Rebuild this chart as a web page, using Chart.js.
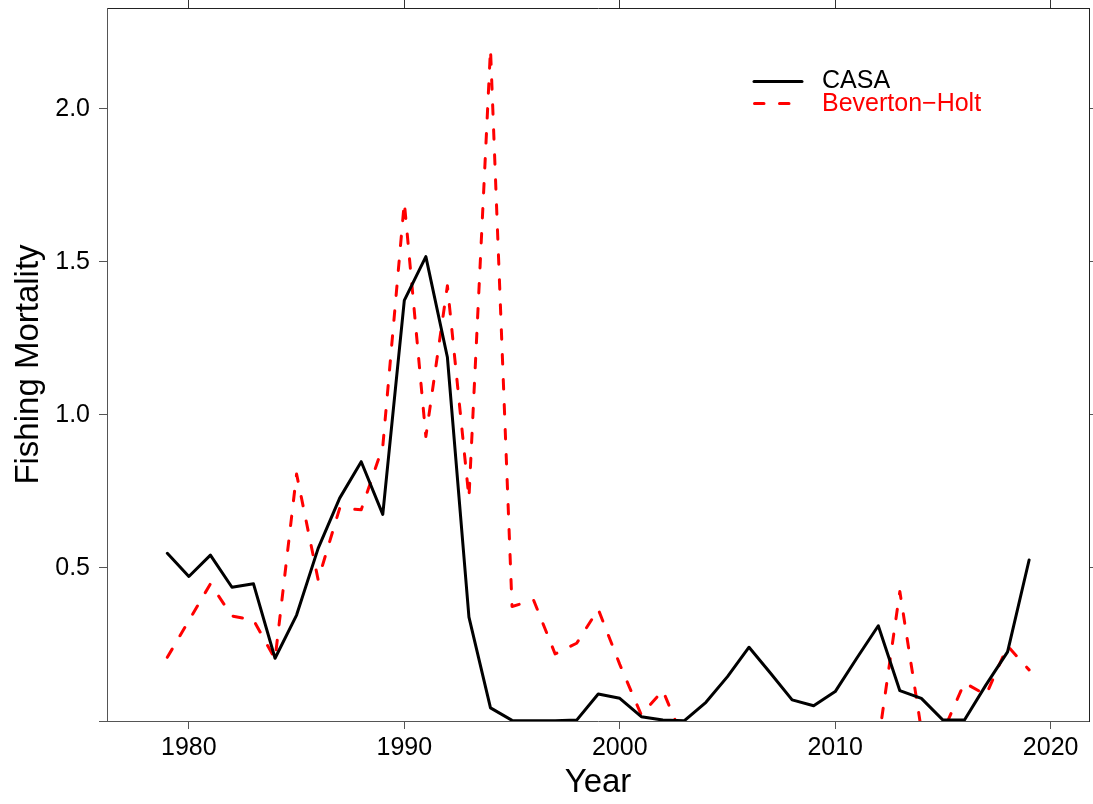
<!DOCTYPE html>
<html>
<head>
<meta charset="utf-8">
<script src="https://cdn.jsdelivr.net/npm/chart.js@4/dist/chart.umd.min.js"></script>
<style>
  html, body { margin: 0; padding: 0; background: #fff; }
  #wrap { width: 1093px; height: 804px; position: relative; }
</style>
</head>
<body>
<div id="wrap"><canvas id="c"></canvas></div>
<script>
// Fishing mortality estimates by year from two assessment models
const years = [
  1979, 1980, 1981, 1982, 1983, 1984, 1985, 1986, 1987, 1988,
  1989, 1990, 1991, 1992, 1993, 1994, 1995, 1996, 1997, 1998,
  1999, 2000, 2001, 2002, 2003, 2004, 2005, 2006, 2007, 2008,
  2009, 2010, 2011, 2012, 2013, 2014, 2015, 2016, 2017, 2018, 2019
];
const casaF = [
  0.548, 0.472, 0.542, 0.437, 0.448, 0.205, 0.346, 0.564, 0.728, 0.847,
  0.675, 1.374, 1.517, 1.188, 0.339, 0.043, 0.002, 0.001, 0.001, 0.003,
  0.088, 0.074, 0.014, 0.003, 0.001, 0.061, 0.145, 0.241, 0.156, 0.069,
  0.050, 0.096, 0.205, 0.311, 0.099, 0.074, 0.003, 0.003, 0.118, 0.226, 0.526
];
// Beverton-Holt estimates below zero for 2003-2012 fall outside the plotted range
const bhF = [
  0.208, 0.328, 0.448, 0.343, 0.330, 0.202, 0.807, 0.461, 0.695, 0.690,
  0.896, 1.694, 0.929, 1.422, 0.728, 2.195, 0.374, 0.395, 0.219, 0.254,
  0.365, 0.185, 0.020, 0.100, -0.070, null, null, null, null, null,
  null, null, null, -0.070, 0.423, -0.030, -0.036, 0.125, 0.085, 0.245, 0.167
];
const seriesNames = ['CASA', 'Beverton\u2212Holt'];
const xTicks = [1980, 1990, 2000, 2010, 2020];
const yTicks = [0, 0.5, 1.0, 1.5, 2.0];

const FONT = "'Liberation Sans', Arial, Helvetica, sans-serif";
const DASH = [9.5, 15.5];

const toPoints = vals => years.map((y, i) => ({ x: y, y: vals[i] }));

// Legend drawn inside the plot area, upper right
const legendPlugin = {
  id: 'innerLegend',
  afterDraw(chart) {
    const ctx = chart.ctx;
    ctx.save();
    ctx.lineCap = 'round';
    ctx.lineWidth = 3;
    ctx.strokeStyle = '#000';
    ctx.setLineDash([]);
    ctx.beginPath();
    ctx.moveTo(754, 81.5);
    ctx.lineTo(802, 81.5);
    ctx.stroke();
    ctx.strokeStyle = '#ff0000';
    ctx.setLineDash(DASH);
    ctx.beginPath();
    ctx.moveTo(754.5, 103.5);
    ctx.lineTo(802, 103.5);
    ctx.stroke();
    ctx.setLineDash([]);
    ctx.font = '25px ' + FONT;
    ctx.textBaseline = 'middle';
    ctx.textAlign = 'left';
    ctx.fillStyle = '#000';
    ctx.fillText(seriesNames[0], 822, 81);
    ctx.fillStyle = '#ff0000';
    ctx.fillText(seriesNames[1], 822, 104);
    ctx.restore();
  }
};

const setTicks = list => scale => { scale.ticks = list.map(v => ({ value: v })); };
// fixed axis band sizes, no extra label overhang padding
const fixSize = (dim, px) => scale => {
  scale[dim] = px;
  scale.paddingTop = 0; scale.paddingBottom = 0;
  scale.paddingLeft = 0; scale.paddingRight = 0;
};

const xMin = 1976.2, xMax = 2021.78;
const yMin = 0, yMax = 2.329;

new Chart(document.getElementById('c'), {
  type: 'line',
  data: {
    datasets: [
      {
        label: seriesNames[0],
        data: toPoints(casaF),
        borderColor: '#000',
        borderWidth: 3,
        pointRadius: 0,
        tension: 0,
        borderJoinStyle: 'round',
        borderCapStyle: 'round',
        spanGaps: false
      },
      {
        label: seriesNames[1],
        data: toPoints(bhF),
        borderColor: '#ff0000',
        borderWidth: 3,
        borderDash: DASH,
        borderCapStyle: 'round',
        borderJoinStyle: 'round',
        pointRadius: 0,
        tension: 0,
        spanGaps: false
      }
    ]
  },
  options: {
    responsive: true,
    maintainAspectRatio: false,
    animation: false,
    devicePixelRatio: 1,
    layout: { padding: 0 },
    plugins: {
      legend: { display: false },
      tooltip: { enabled: false }
    },
    scales: {
      x: {
        type: 'linear',
        position: 'bottom',
        min: xMin,
        max: xMax,
        afterBuildTicks: setTicks(xTicks),
        afterFit: fixSize('height', 83),
        grid: { drawOnChartArea: false, drawTicks: true, tickLength: 8, color: '#555', lineWidth: 1 },
        border: { display: true, color: '#555', width: 1 },
        ticks: {
          font: { family: FONT, size: 25 },
          color: '#000',
          padding: 4,
          maxRotation: 0,
          autoSkip: false,
          callback: v => String(v)
        },
        title: {
          display: true,
          text: 'Year',
          font: { family: FONT, size: 33 },
          color: '#000',
          padding: { top: 0, bottom: 1 }
        }
      },
      xTop: {
        type: 'linear',
        position: 'top',
        min: xMin,
        max: xMax,
        afterBuildTicks: setTicks(xTicks),
        afterFit: fixSize('height', 8),
        grid: { drawOnChartArea: false, drawTicks: true, tickLength: 8, color: '#333', lineWidth: 1 },
        border: { display: true, color: '#222', width: 1 },
        ticks: { display: false }
      },
      y: {
        type: 'linear',
        position: 'left',
        min: yMin,
        max: yMax,
        afterBuildTicks: setTicks(yTicks),
        afterFit: fixSize('width', 107),
        grid: { drawOnChartArea: false, drawTicks: true, tickLength: 8, color: '#555', lineWidth: 1 },
        border: { display: true, color: '#555', width: 1 },
        ticks: {
          font: { family: FONT, size: 25 },
          color: '#000',
          padding: 9,
          autoSkip: false,
          callback: v => (v === 0 ? '' : v.toFixed(1))
        },
        title: {
          display: true,
          text: 'Fishing Mortality',
          font: { family: FONT, size: 33 },
          color: '#000',
          padding: { top: 9, bottom: 0 }
        }
      },
      yRight: {
        type: 'linear',
        position: 'right',
        min: yMin,
        max: yMax,
        afterBuildTicks: setTicks(yTicks.slice(1)),
        afterFit: fixSize('width', 4),
        grid: { drawOnChartArea: false, drawTicks: true, tickLength: 8, color: '#555', lineWidth: 1 },
        border: { display: true, color: '#222', width: 1 },
        ticks: { display: false }
      }
    }
  },
  plugins: [legendPlugin]
});
</script>
</body>
</html>
